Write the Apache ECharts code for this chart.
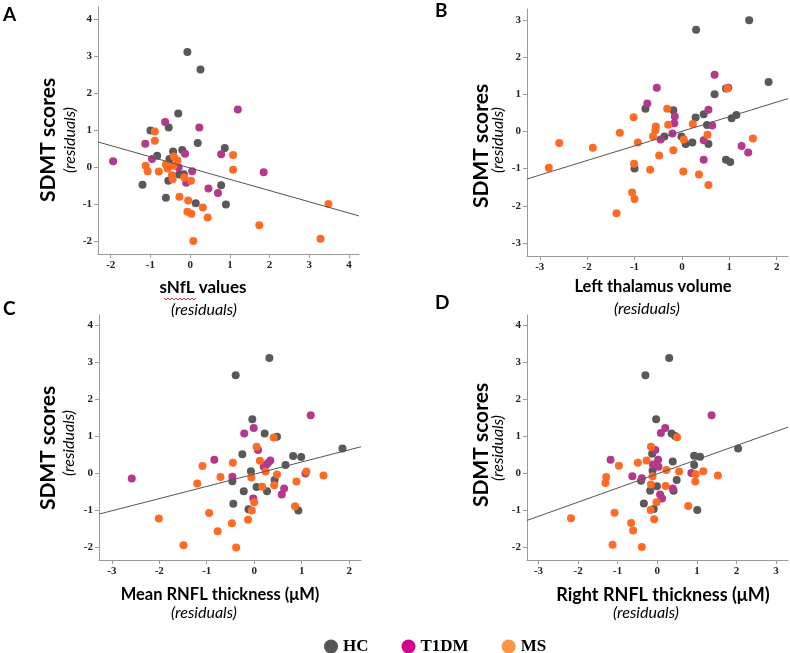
<!DOCTYPE html>
<html>
<head>
<meta charset="utf-8">
<script src="https://cdn.jsdelivr.net/npm/echarts@6/dist/echarts.min.js"></script>
<style>
  html, body { margin: 0; padding: 0; background: #fff; }
  #main { width: 790px; height: 653px; }
</style>
</head>
<body>
<div id="main"></div>
<script>
// groups
var groups = ['HC', 'T1DM', 'MS'];

// panel A: sNfL values vs SDMT
var aHC = [[-0.07,3.12],[0.26,2.65],[-0.3,1.46],[-1.0,1.0],[-0.54,1.08],[0.19,0.66],[-0.43,0.43],[-0.2,0.47],[0.87,0.53],[-0.83,0.32],[-0.52,0.23],[-0.28,-0.19],[-0.16,-0.18],[-0.55,-0.36],[-1.2,-0.47],[0.78,-0.48],[-0.61,-0.82],[0.14,-0.97],[0.9,-1.0]];
var aT1DM = [[1.2,1.57],[0.23,1.08],[-0.63,1.23],[-1.13,0.64],[-0.13,0.37],[0.78,0.36],[-0.96,0.23],[-1.94,0.17],[-0.29,0.0],[0.05,-0.1],[1.85,-0.13],[-0.1,-0.41],[0.46,-0.57],[0.7,-0.69]];
var aMS = [[-0.89,0.97],[-0.89,0.72],[-0.41,0.3],[-0.32,0.19],[-0.61,0.08],[-1.12,0.05],[-0.42,0.05],[-0.57,-0.03],[-1.07,-0.1],[-0.79,-0.11],[1.08,0.34],[1.08,-0.06],[-0.46,-0.21],[-0.44,-0.32],[-0.15,-0.27],[0.02,-0.36],[-0.27,-0.79],[-0.05,-0.89],[0.32,-1.08],[-0.07,-1.2],[0.03,-1.25],[0.44,-1.35],[1.74,-1.56],[0.08,-1.99],[3.28,-1.93],[3.48,-0.99]];
var aFit = [[-2.32,0.69],[4.25,-1.31]];

// panel B: left thalamus volume vs SDMT
var bHC = [[0.3,2.73],[1.42,2.99],[1.83,1.33],[0.69,1.0],[0.93,1.15],[-0.77,0.61],[-0.18,0.57],[0.29,0.37],[0.46,0.46],[0.53,0.17],[1.05,0.35],[1.15,0.44],[-0.37,-0.14],[-0.01,-0.14],[0.08,-0.34],[0.22,-0.3],[0.56,-0.34],[0.93,-0.76],[1.02,-0.82],[-1.0,-1.0]];
var bT1DM = [[-0.53,1.17],[-0.73,0.75],[0.69,1.52],[0.98,1.17],[-0.15,0.4],[0.56,0.58],[-0.16,0.22],[-0.2,-0.06],[0.64,0.16],[-0.45,-0.22],[0.46,-0.24],[1.26,-0.39],[1.4,-0.57],[0.46,-0.76]];
var bMS = [[0.96,1.15],[-0.31,0.61],[-1.02,0.38],[-0.29,0.18],[-0.55,0.13],[-0.56,0.03],[-0.61,-0.13],[0.23,0.2],[-1.31,-0.04],[-2.59,-0.31],[-1.88,-0.44],[-0.93,-0.3],[0.04,-0.22],[0.54,-0.09],[1.5,-0.19],[-0.18,-0.51],[-0.48,-0.65],[-2.81,-0.98],[-1.01,-0.87],[-0.67,-1.03],[0.03,-1.08],[0.36,-1.16],[0.56,-1.44],[-1.05,-1.64],[-1.0,-1.82],[-1.38,-2.2]];
var bFit = [[-3.27,-1.28],[2.24,0.88]];

// panel C: mean RNFL thickness vs SDMT
var cHC = [[0.32,3.12],[-0.39,2.65],[-0.04,1.46],[0.22,1.08],[0.48,0.99],[-0.25,0.52],[-0.07,0.06],[-0.46,-0.21],[-0.22,-0.48],[0.05,-0.37],[0.27,-0.48],[0.43,-0.18],[0.66,0.23],[0.82,0.47],[0.99,0.44],[1.86,0.67],[-0.44,-0.82],[-0.12,-0.97],[0.93,-1.0]];
var cT1DM = [[1.19,1.57],[-0.01,1.23],[-0.21,1.08],[0.08,0.63],[-0.84,0.37],[0.34,0.35],[0.29,0.28],[0.25,0.23],[0.2,0.18],[-2.58,-0.14],[-0.46,-0.09],[1.08,0.0],[0.63,-0.41],[0.58,-0.57],[-0.02,-0.68]];
var cMS = [[0.41,0.97],[0.05,0.72],[0.12,0.34],[-0.45,0.29],[-1.09,0.2],[0.24,0.05],[1.1,0.05],[0.48,-0.03],[1.46,-0.06],[-0.71,-0.1],[-0.06,-0.11],[-1.2,-0.27],[0.89,-0.22],[0.17,-0.36],[0.42,-0.32],[0.0,-0.78],[0.86,-0.89],[-0.05,-1.0],[-0.95,-1.07],[-0.13,-1.25],[-0.47,-1.35],[-2.01,-1.22],[-0.77,-1.56],[-1.49,-1.94],[-0.38,-2.0]];
var cFit = [[-3.27,-1.1],[2.25,0.72]];

// panel D: right RNFL thickness vs SDMT
var dHC = [[0.3,3.12],[-0.3,2.65],[-0.03,1.46],[0.36,1.08],[0.45,1.01],[2.04,0.67],[0.93,0.48],[1.08,0.45],[0.93,0.23],[0.39,0.32],[-0.13,0.53],[-0.12,0.07],[-0.41,-0.2],[-0.01,-0.35],[-0.18,-0.47],[0.49,-0.18],[0.41,-0.47],[-0.34,-0.81],[-0.09,-0.96],[1.01,-0.99]];
var dT1DM = [[1.37,1.57],[0.2,1.23],[0.09,1.09],[-0.05,0.63],[-1.18,0.37],[0.02,0.37],[-0.11,0.24],[0.03,0.18],[-0.63,-0.08],[-0.39,-0.13],[0.86,0.01],[0.39,-0.41],[0.07,-0.57],[0.12,-0.68]];
var dMS = [[0.5,0.98],[-0.16,0.72],[-0.27,0.35],[-0.49,0.29],[-0.97,0.21],[-1.29,-0.1],[-1.31,-0.26],[-0.12,-0.08],[0.23,0.09],[0.55,0.05],[0.97,-0.02],[1.16,0.06],[1.53,-0.06],[0.96,-0.22],[-0.16,-0.3],[0.21,-0.34],[-0.02,-0.78],[0.78,-0.88],[-0.17,-0.99],[-1.08,-1.06],[-0.08,-1.24],[-2.18,-1.21],[-0.66,-1.34],[-0.61,-1.54],[-1.13,-1.93],[-0.39,-1.99]];
var dFit = [[-3.29,-1.27],[3.3,1.25]];

// tick labels
var xTicksA = [-2, -1, 0, 1, 2, 3, 4];
var yTicksA = [-2, -1, 0, 1, 2, 3, 4];
var xTicksB = [-3, -2, -1, 0, 1, 2];
var yTicksB = [-3, -2, -1, 0, 1, 2, 3];
var xTicksC = [-3, -2, -1, 0, 1, 2];
var yTicksC = [-2, -1, 0, 1, 2, 3, 4];
var xTicksD = [-3, -2, -1, 0, 1, 2, 3];
var yTicksD = [-2, -1, 0, 1, 2, 3, 4];

var dotColors = { HC: '#595959', T1DM: '#b4388c', MS: '#ff6a24' };
var legendColors = { HC: '#555555', T1DM: '#d4008f', MS: '#f79646' };

var axisLineStyle = { show: true, lineStyle: { color: '#9a9a9a', width: 1 } };
var tickLabel = { fontFamily: 'Liberation Serif', fontWeight: 'bold', fontSize: 11, color: '#222' };

function axisFor(idx, min, max, ticks) {
    return {
        type: 'value', gridIndex: idx, min: min, max: max,
        axisLine: Object.assign({ onZero: false }, axisLineStyle),
        splitLine: { show: false },
        axisTick: { show: true, length: 4, lineStyle: { color: '#9a9a9a' }, customValues: ticks },
        axisLabel: Object.assign({ margin: 6, customValues: ticks }, tickLabel)
    };
}

var panels = [
    [aHC, aT1DM, aMS, aFit],
    [bHC, bT1DM, bMS, bFit],
    [cHC, cT1DM, cMS, cFit],
    [dHC, dT1DM, dMS, dFit]
];

var series = [];
panels.forEach(function (p, i) {
    groups.forEach(function (g, j) {
        series.push({
            name: g, type: 'scatter', xAxisIndex: i, yAxisIndex: i,
            symbolSize: 8, itemStyle: { color: dotColors[g], opacity: 1 },
            data: p[j]
        });
    });
    series.push({
        type: 'line', xAxisIndex: i, yAxisIndex: i, symbol: 'none',
        lineStyle: { color: '#555', width: 1 }, silent: true, z: 5,
        data: p[3]
    });
});

function label(txt, x, y, size, italic, vertical) {
    return {
        type: 'text', x: x, y: y, rotation: vertical ? Math.PI / 2 : 0,
        style: {
            text: txt, x: 0, y: 0, align: 'center', verticalAlign: 'middle',
            fontFamily: 'Lato', fontSize: size, fontWeight: italic ? 'normal' : 'bold',
            fontStyle: italic ? 'italic' : 'normal', fill: '#000'
        }
    };
}
function letter(txt, x, y) {
    return { type: 'text', left: x, top: y, style: { text: txt, fontFamily: 'Lato', fontWeight: 'bold', fontSize: 19, fill: '#000' } };
}

var chart = echarts.init(document.getElementById('main'));
chart.setOption({
    backgroundColor: '#fff',
    animation: false,
    grid: [
        { left: 98, top: 7, width: 261, height: 247 },
        { left: 527, top: 9, width: 261, height: 247 },
        { left: 99, top: 315, width: 262, height: 245 },
        { left: 527, top: 315, width: 261, height: 245 }
    ],
    xAxis: [
        axisFor(0, -2.32, 4.25, xTicksA),
        axisFor(1, -3.27, 2.24, xTicksB),
        axisFor(2, -3.27, 2.25, xTicksC),
        axisFor(3, -3.29, 3.3, xTicksD)
    ],
    yAxis: [
        axisFor(0, -2.34, 4.34, yTicksA),
        axisFor(1, -3.35, 3.29, yTicksB),
        axisFor(2, -2.34, 4.28, yTicksC),
        axisFor(3, -2.34, 4.28, yTicksD)
    ],
    legend: {
        left: 319, top: 633, itemGap: 33, itemWidth: 14, itemHeight: 14,
        icon: 'circle',
        textStyle: { fontFamily: 'Liberation Serif', fontWeight: 'bold', fontSize: 17, color: '#000' },
        data: groups.map(function (g) {
            return { name: g, itemStyle: { color: legendColors[g] } };
        })
    },
    series: series,
    graphic: [
        letter('A', 3, 5),
        letter('B', 435, 1),
        letter('C', 3, 299),
        letter('D', 435, 293),
        label('SDMT scores', 48, 140, 21, false, true),
        label('(residuals)', 70, 140, 16, true, true),
        label('SDMT scores', 481, 146, 21, false, true),
        label('(residuals)', 498, 140, 16, true, true),
        label('SDMT scores', 48, 448, 21, false, true),
        label('(residuals)', 69, 443, 16, true, true),
        label('SDMT scores', 481, 445, 21, false, true),
        label('(residuals)', 498, 448, 16, true, true),
        label('sNfL values', 203, 288, 17, false, false),
        label('(residuals)', 204, 310, 16, true, false),
        label('Left thalamus volume', 653, 287, 16.5, false, false),
        label('(residuals)', 647, 309, 16, true, false),
        label('Mean RNFL thickness (\u03bcM)', 220, 595, 16.5, false, false),
        label('(residuals)', 204, 613, 16, true, false),
        label('Right RNFL thickness (\u03bcM)', 663, 595, 18, false, false),
        label('(residuals)', 646, 613, 16, true, false),
        {
            type: 'polyline', silent: true,
            shape: { points: [[164,298],[166,300],[168,298],[170,300],[172,298],[174,300],[176,298],[178,300],[180,298],[182,300],[184,298],[186,300],[188,298],[190,300],[192,298],[194,300],[196,298]] },
            style: { stroke: '#e33', lineWidth: 1, fill: null }
        }
    ]
});
</script>
</body>
</html>
